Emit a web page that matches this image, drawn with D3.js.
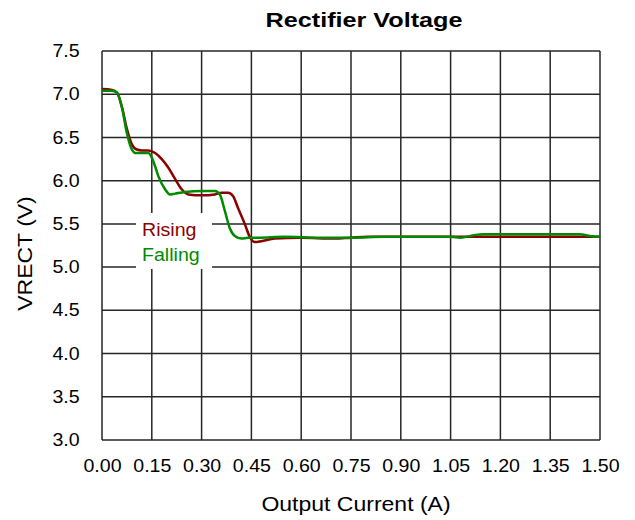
<!DOCTYPE html>
<html>
<head>
<meta charset="utf-8">
<script src="https://cdn.jsdelivr.net/npm/d3@7"></script>
<style>
  body { margin: 0; background: #fff; }
  svg { font-family: "Liberation Sans", Arial, sans-serif; }
</style>
</head>
<body>
<svg id="vis-container"></svg>
<script>
const WIDTH = 635
const HEIGHT = 520
const MARGIN = { top: 51, right: 35, bottom: 80, left: 102 }
const WIDE = 1.12 // reference glyphs are a bit wider than Liberation Sans

const xTicks = [0, 0.15, 0.3, 0.45, 0.6, 0.75, 0.9, 1.05, 1.2, 1.35, 1.5]
const yTicks = [3.0, 3.5, 4.0, 4.5, 5.0, 5.5, 6.0, 6.5, 7.0, 7.5]

// rising sweep
const risingCurrent = [0, 0.03, 0.045, 0.06, 0.075, 0.09, 0.105, 0.12, 0.14, 0.16, 0.18, 0.2, 0.22, 0.24, 0.26, 0.3, 0.34, 0.36, 0.38, 0.395, 0.41, 0.43, 0.445, 0.46, 0.48, 0.52, 0.6, 0.7, 0.75, 0.8, 0.9, 1.0, 1.1, 1.2, 1.3, 1.4, 1.5]
const risingVolt = [7.06, 7.05, 7.02, 6.85, 6.6, 6.42, 6.36, 6.35, 6.35, 6.32, 6.25, 6.15, 6.02, 5.9, 5.84, 5.83, 5.84, 5.86, 5.86, 5.82, 5.68, 5.5, 5.35, 5.29, 5.3, 5.33, 5.34, 5.33, 5.34, 5.35, 5.35, 5.35, 5.35, 5.35, 5.35, 5.35, 5.35]

// falling sweep
const fallingCurrent = [0, 0.03, 0.045, 0.06, 0.075, 0.09, 0.1, 0.12, 0.14, 0.155, 0.17, 0.19, 0.205, 0.22, 0.25, 0.3, 0.34, 0.355, 0.37, 0.385, 0.4, 0.42, 0.44, 0.47, 0.55, 0.65, 0.75, 0.85, 0.95, 1.05, 1.08, 1.12, 1.15, 1.3, 1.44, 1.47, 1.5]
const fallingVolt = [7.04, 7.04, 7.02, 6.85, 6.55, 6.36, 6.32, 6.32, 6.32, 6.22, 6.05, 5.9, 5.84, 5.85, 5.87, 5.88, 5.88, 5.84, 5.65, 5.45, 5.36, 5.33, 5.34, 5.34, 5.35, 5.34, 5.34, 5.35, 5.35, 5.35, 5.34, 5.37, 5.38, 5.38, 5.38, 5.36, 5.35]

const CONTAINER = d3.select("#vis-container")
  .attr("width", WIDTH)
  .attr("height", HEIGHT)

const x = d3.scaleLinear().domain([0, 1.5]).range([MARGIN.left, WIDTH - MARGIN.right])
const y = d3.scaleLinear().domain([3, 7.5]).range([HEIGHT - MARGIN.bottom, MARGIN.top])

// grid
const grid = CONTAINER.append("g").attr("id", "grid")
grid.selectAll(".vgrid").data(xTicks).join("line")
  .attr("x1", d => x(d)).attr("x2", d => x(d))
  .attr("y1", y(3)).attr("y2", y(7.5))
  .attr("stroke", "#262626").attr("stroke-width", 1.5)
grid.selectAll(".hgrid").data(yTicks).join("line")
  .attr("x1", x(0)).attr("x2", x(1.5))
  .attr("y1", d => y(d)).attr("y2", d => y(d))
  .attr("stroke", "#262626").attr("stroke-width", 1.5)

// axes (labels only)
const xAxis = CONTAINER.append("g")
  .attr("transform", `translate(0,${y(3)})`)
  .call(d3.axisBottom(x).tickValues(xTicks).tickFormat(d3.format(".2f")).tickSize(0).tickPadding(20))
xAxis.select(".domain").remove()
xAxis.selectAll("text").attr("font-size", 17.5).attr("fill", "#000")
  .attr("font-family", "Liberation Sans, Arial, sans-serif")
  .attr("transform", `scale(${WIDE},1)`)

const yAxis = CONTAINER.append("g")
  .attr("transform", `translate(${x(0)},0)`)
  .call(d3.axisLeft(y).tickValues(yTicks).tickFormat(d3.format(".1f")).tickSize(0).tickPadding(20))
yAxis.select(".domain").remove()
yAxis.selectAll("text").attr("font-size", 17.5).attr("fill", "#000")
  .attr("font-family", "Liberation Sans, Arial, sans-serif")
  .attr("transform", `scale(${WIDE},1)`)

// lines
const line = d3.line()
  .x(d => x(d[0]))
  .y(d => y(d[1]))
  .curve(d3.curveMonotoneX)

CONTAINER.append("path")
  .datum(d3.zip(risingCurrent, risingVolt))
  .attr("d", line)
  .attr("fill", "none")
  .attr("stroke", "#8b0000")
  .attr("stroke-width", 2.5)

CONTAINER.append("path")
  .datum(d3.zip(fallingCurrent, fallingVolt))
  .attr("d", line)
  .attr("fill", "none")
  .attr("stroke", "#008a00")
  .attr("stroke-width", 2.5)

// legend
const legend = CONTAINER.append("g").attr("id", "legend")
legend.append("rect")
  .attr("x", 136).attr("y", 213).attr("width", 76).attr("height", 56)
  .attr("fill", "#fff")
legend.append("text")
  .attr("transform", `translate(142,236) scale(${WIDE},1)`)
  .attr("font-size", 17.5).attr("fill", "#8b0000")
  .text("Rising")
legend.append("text")
  .attr("transform", `translate(142,261) scale(${WIDE},1)`)
  .attr("font-size", 17.5).attr("fill", "#008a00")
  .text("Falling")

// titles
CONTAINER.append("text")
  .attr("transform", "translate(364,27) scale(1.2,1)")
  .attr("text-anchor", "middle")
  .attr("font-size", 21).attr("font-weight", "bold")
  .text("Rectifier Voltage")

CONTAINER.append("text")
  .attr("transform", `translate(356,511) scale(1.15,1)`)
  .attr("text-anchor", "middle")
  .attr("font-size", 20)
  .text("Output Current (A)")

CONTAINER.append("text")
  .attr("transform", `translate(32,${(y(3) + y(7.5)) / 2 + 8}) rotate(-90) scale(1.15,1)`)
  .attr("text-anchor", "middle")
  .attr("font-size", 20)
  .text("VRECT (V)")
</script>
</body>
</html>
